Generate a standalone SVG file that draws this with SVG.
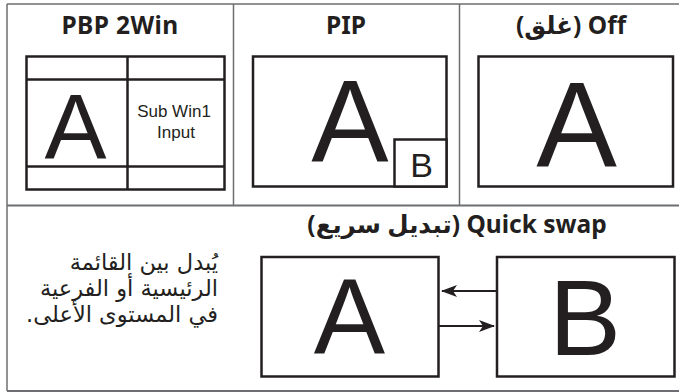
<svg xmlns="http://www.w3.org/2000/svg" width="679" height="392" viewBox="0 0 679 392">
<style>
.grid{stroke:#6d6e71;stroke-width:1.5;fill:none}
.box{stroke:#231f20;stroke-width:2.5;fill:#fff}
.ln{stroke:#231f20;stroke-width:2.5}
.hd{font-family:"Noto Sans","Open Sans","DejaVu Sans",sans-serif;font-weight:bold;font-size:24.5px;fill:#231f20}
.big{font-family:"Liberation Sans",Arial,sans-serif;fill:#231f20;text-anchor:middle}
.sm{font-family:"Liberation Sans",Arial,sans-serif;fill:#231f20;font-size:17px;text-anchor:middle}
.ar{font-family:"DejaVu Sans","Noto Sans",sans-serif;font-size:22.5px;fill:#231f20}
.arrow{stroke:#231f20;stroke-width:2;fill:none}
</style>
<defs>
<marker id="ah" viewBox="0 0 16 12" refX="15" refY="6" markerWidth="16" markerHeight="12" markerUnits="userSpaceOnUse" orient="auto">
<path d="M0,0 L16,6 L0,12 L4,6 z" fill="#231f20"/>
</marker>
</defs>
<rect width="679" height="392" fill="#fff"/>
<g id="table">
<line class="grid" x1="7" y1="4" x2="679" y2="4"/>
<line class="grid" x1="7" y1="4" x2="7" y2="391"/>
<line class="grid" x1="233.5" y1="4" x2="233.5" y2="205"/>
<line class="grid" x1="459.5" y1="4" x2="459.5" y2="205"/>
<line class="grid" x1="7" y1="205.5" x2="679" y2="205.5" style="stroke-width:2"/>
<line class="grid" x1="7" y1="391" x2="679" y2="391" style="stroke-width:2"/>
</g>
<g id="pbp">
<text class="hd" x="120" y="34" text-anchor="middle" letter-spacing="0.4">PBP 2Win</text>
<rect class="box" x="26.5" y="56.5" width="198" height="133"/>
<line class="ln" x1="127.5" y1="56.5" x2="127.5" y2="189.5"/>
<line class="ln" x1="26.5" y1="79.5" x2="224.5" y2="79.5"/>
<line class="ln" x1="26.5" y1="166.5" x2="224.5" y2="166.5"/>
<text class="big" x="75.5" y="159" font-size="93">A</text>
<text class="sm" x="174" y="117">Sub Win1</text>
<text class="sm" x="176" y="138">Input</text>
</g>
<g id="pip">
<text class="hd" x="346" y="34" text-anchor="middle">PIP</text>
<rect class="box" x="253" y="56.5" width="193.5" height="130"/>
<text class="big" x="350" y="161.5" font-size="116">A</text>
<rect class="box" x="394.5" y="139.5" width="52" height="47"/>
<text class="big" x="421.5" y="177" font-size="34">B</text>
</g>
<g id="off">
<text class="hd" x="571" y="34" text-anchor="middle" direction="rtl" unicode-bidi="embed">Off (غلق)</text>
<rect class="box" x="478.5" y="56.5" width="194.5" height="130"/>
<text class="big" x="576.5" y="166" font-size="121">A</text>
</g>
<g id="swap">
<text class="hd" x="457" y="233" text-anchor="middle" direction="rtl" unicode-bidi="embed">Quick swap (تبديل سريع)</text>
<text class="ar" x="218" y="270" direction="rtl" unicode-bidi="embed" text-anchor="start">يُبدل بين القائمة</text>
<text class="ar" x="218" y="296" direction="rtl" unicode-bidi="embed" text-anchor="start">الرئيسية أو الفرعية</text>
<text class="ar" x="218" y="322" direction="rtl" unicode-bidi="embed" text-anchor="start">في المستوى الأعلى.</text>
</g>
<g id="swapA">
<rect class="box" x="261.5" y="257" width="177" height="119.5"/>
<text class="big" x="349.5" y="354" font-size="107">A</text>
</g>
<g id="swapB">
<rect class="box" x="497" y="257" width="177.5" height="119.5"/>
<text class="big" x="585" y="355" font-size="108">B</text>
</g>
<g id="connectors">
<line class="arrow" x1="497" y1="291" x2="442" y2="291" marker-end="url(#ah)"/>
<line class="arrow" x1="439" y1="326" x2="494" y2="326" marker-end="url(#ah)"/>
</g>
</svg>
